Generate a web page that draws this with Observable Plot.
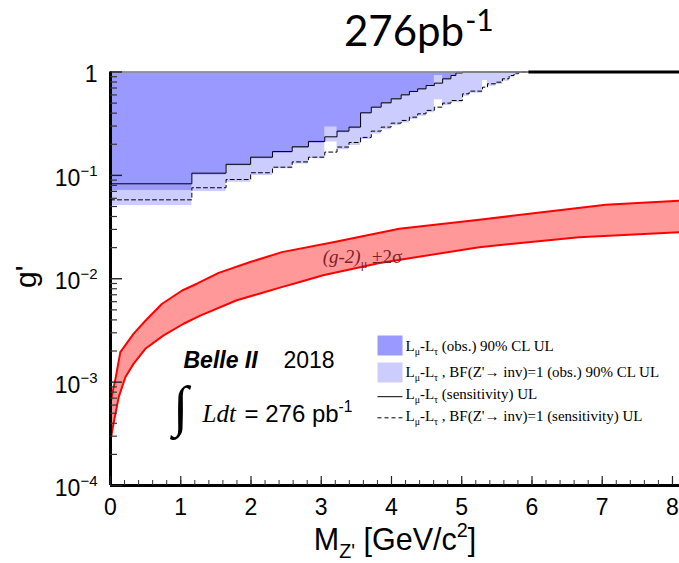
<!DOCTYPE html>
<html><head><meta charset="utf-8">
<script src="https://cdn.jsdelivr.net/npm/d3@7"></script>
<script src="https://cdn.jsdelivr.net/npm/@observablehq/plot@0.6"></script>
<style>
html,body{margin:0;padding:0;background:#fff;}
#wrap{width:679px;height:563px;position:relative;background:#fff;}
#title{position:relative;height:50px;font-family:Lato,"Open Sans",sans-serif;}
#title .main{position:absolute;left:344px;top:4px;font-size:42px;line-height:44px;white-space:nowrap;color:#000;}
#title .sup{font-size:30px;line-height:30px;vertical-align:15px;margin-left:1px;}
#chart svg{display:block;}
</style></head><body>
<div id="wrap"><div id="title"><span class="main">276pb<span class="sup">-1</span></span></div><div id="chart"></div></div>
<script>
// ---- data ----
const binEdges = [0, 1.158, 1.645, 1.995, 2.307, 2.586, 2.818, 3.05, 3.225, 3.395, 3.56, 3.712, 3.853, 3.995, 4.137, 4.255, 4.373, 4.492, 4.61, 4.728, 4.846, 4.917, 5.012, 5.106, 5.296, 5.366, 5.485, 5.579, 5.674, 5.745, 5.816, 5.957];
// L_mu - L_tau observed 90% CL UL (dark)
const obsUL = [0.0715, 0.101, 0.124, 0.145, 0.164, 0.183, 0.205, 0.293, 0.258, 0.282, 0.394, 0.447, 0.492, 0.538, 0.588, 0.634, 0.672, 0.724, 0.925, 0.84, 0.905, 0.96, 1, 1, 1, 1, 1, 1, 1, 1, 1];
// BF(Z'->inv)=1 observed 90% CL UL (light)
const obsInvUL = [0.0512, 0.0699, 0.086, 0.0998, 0.116, 0.129, 0.145, 0.210, 0.177, 0.195, 0.222, 0.252, 0.276, 0.304, 0.322, 0.347, 0.374, 0.403, 0.538, 0.474, 0.503, 0.503, 0.584, 0.624, 0.827, 0.729, 0.757, 0.815, 0.879, 0.925, 0.975];
// sensitivity (solid)
const sensUL = [0.0829, 0.105, 0.128, 0.150, 0.170, 0.189, 0.213, 0.236, 0.268, 0.293, 0.403, 0.457, 0.503, 0.550, 0.601, 0.648, 0.687, 0.740, 0.780, 0.859, 0.925, 0.98, 1, 1, 1, 1, 1, 1, 1, 1, 1];
// BF=1 sensitivity (dashed)
const sensInvUL = [0.058, 0.0759, 0.0912, 0.106, 0.120, 0.135, 0.150, 0.168, 0.188, 0.208, 0.233, 0.268, 0.293, 0.320, 0.340, 0.366, 0.394, 0.425, 0.457, 0.500, 0.530, 0.530, 0.615, 0.653, 0.713, 0.769, 0.797, 0.859, 0.925, 0.975, 1];
// (g-2)_mu +-2 sigma band
const gm2UpperX = [0, 0.03, 0.07, 0.14, 0.33, 0.5, 0.73, 1.02, 1.23, 1.54, 1.99, 2.44, 3.17, 4.11, 5.25, 7.05, 8.12];
const gm2UpperG = [6.2e-4, 8.0e-4, 1.07e-3, 1.95e-3, 2.95e-3, 3.95e-3, 5.7e-3, 7.7e-3, 8.95e-3, 1.14e-2, 1.45e-2, 1.81e-2, 2.26e-2, 3.05e-2, 3.72e-2, 5.2e-2, 5.7e-2];
const gm2LowerX = [0, 0.047, 0.118, 0.213, 0.33, 0.496, 0.756, 1.04, 1.277, 1.797, 2.128, 2.411, 2.695, 3.026, 3.83, 5.248, 6.667, 8.12];
const gm2LowerG = [2.72e-4, 4.1e-4, 7.2e-4, 1.12e-3, 1.51e-3, 2.1e-3, 2.83e-3, 3.67e-3, 4.4e-3, 6.2e-3, 7.2e-3, 8.2e-3, 9.3e-3, 1.08e-2, 1.42e-2, 2.02e-2, 2.52e-2, 2.82e-2];

const xTicks = [0, 1, 2, 3, 4, 5, 6, 7, 8];
const xTickLabels = ["0", "1", "2", "3", "4", "5", "6", "7", "8"];
const yTicks = [1e-4, 1e-3, 1e-2, 1e-1, 1];
const yTickLabels = ["10^{−4}", "10^{−3}", "10^{−2}", "10^{−1}", "1"];
const xAxisLabel = "M_{Z'} [GeV/c^{2}]";
const yAxisLabel = "g'";
const legendLabels = ["L_{μ}-L_{τ} (obs.) 90% CL UL", "L_{μ}-L_{τ} , BF(Z'→ inv)=1 (obs.) 90% CL UL", "L_{μ}-L_{τ} (sensitivity) UL", "L_{μ}-L_{τ} , BF(Z'→ inv)=1 (sensitivity) UL"];
const gm2Label = "~i{(g-2)}_{μ} ±2σ";
const gm2LabelAt = {x: 3.02, g: 0.0163};
const belleLabel = "Belle II";
const yearLabel = "2018";
const lumiLabel = "= 276 pb^{-1}";

// ---- styling ----
const xMax = 8.1;
const colDark = "#9999ff", colLight = "#ccccff", colBand = "#ff9999", colRed = "#ff0000";

function stepPoints(edges, vals) {
  const pts = vals.map((v, i) => ({x: edges[i], g: v}));
  pts.push({x: edges[vals.length], g: vals[vals.length - 1]});
  return pts;
}
const darkPts = stepPoints(binEdges, obsUL);
const lightPts = stepPoints(binEdges, obsInvUL);
const sensPts = stepPoints(binEdges, sensUL);
const sensInvPts = stepPoints(binEdges, sensInvUL);
const upperPts = gm2UpperX.map((x, i) => ({x, g: gm2UpperG[i]}));
const lowerPts = gm2LowerX.map((x, i) => ({x, g: gm2LowerG[i]}));
const bandPoly = upperPts.concat(lowerPts.slice().reverse());

const xMinor = d3.range(0, 41).map(i => i / 5);
const yMinor = [];
for (let k = -4; k <= -1; k++) for (let m = 2; m <= 9; m++) yMinor.push(m * Math.pow(10, k));
const yFmt = new Map(yTicks.map((v, i) => [v, yTickLabels[i]]));
const xFmt = new Map(xTicks.map((v, i) => [v, xTickLabels[i]]));

const boxSym = {draw(ctx) { ctx.moveTo(-12.5, -10); ctx.lineTo(12.5, -10); ctx.lineTo(12.5, 10); ctx.lineTo(-12.5, 10); ctx.closePath(); }};
const lineSym = {draw(ctx) { ctx.moveTo(-12.5, 0); ctx.lineTo(12.5, 0); }};

const legendKeys = [
  {sym: boxSym, fill: colDark, stroke: "none", dash: null, dy: 273.5},
  {sym: boxSym, fill: colLight, stroke: "none", dash: null, dy: 300.5},
  {sym: lineSym, fill: "none", stroke: "black", dash: null, dy: 324.7},
  {sym: lineSym, fill: "none", stroke: "black", dash: "4,3", dy: 345.8}
];
const legendTextDy = [274.4, 300.4, 322.5, 344.2];

const legendMarks = [];
legendKeys.forEach((k, i) => {
  legendMarks.push(Plot.dot([0], {frameAnchor: "top-left", dx: 279.5, dy: k.dy, symbol: k.sym, fill: k.fill, stroke: k.stroke, strokeWidth: 1, strokeDasharray: k.dash}));
  legendMarks.push(Plot.text([legendLabels[i]], {frameAnchor: "top-left", dx: 295, dy: legendTextDy[i], textAnchor: "start", lineAnchor: "middle", fontSize: 15, fontFamily: "'Liberation Serif', 'Times New Roman', serif", fill: "black"}));
});

const plot = Plot.plot({
  width: 679, height: 513,
  marginLeft: 110, marginRight: 0, marginTop: 21.5, marginBottom: 78,
  x: {domain: [0, xMax], label: null},
  y: {type: "log", domain: [1e-4, 1], label: null},
  style: {fontFamily: "'Liberation Sans', Arial, sans-serif", background: "white", color: "black", overflow: "visible"},
  marks: [
    Plot.areaY(lightPts, {x: "x", y1: "g", y2: 1, curve: "step-after", fill: colLight}),
    Plot.areaY(darkPts, {x: "x", y1: "g", y2: 1, curve: "step-after", fill: colDark}),
    Plot.line(bandPoly, {x: "x", y: "g", fill: colBand, stroke: "none"}),
    Plot.line(upperPts, {x: "x", y: "g", stroke: colRed, strokeWidth: 2}),
    Plot.line(lowerPts, {x: "x", y: "g", stroke: colRed, strokeWidth: 2}),
    Plot.line(sensPts, {x: "x", y: "g", curve: "step-after", stroke: "black", strokeWidth: 1}),
    Plot.line(sensInvPts, {x: "x", y: "g", curve: "step-after", stroke: "black", strokeWidth: 1, strokeDasharray: "4,3"}),
    Plot.ruleY([1], {stroke: "#8a8a8a", strokeWidth: 1.5}),
    Plot.ruleY([1], {x1: binEdges[binEdges.length - 1], x2: xMax, stroke: "black", strokeWidth: 3}),
    Plot.ruleX([0], {stroke: "black", strokeWidth: 3}),
    Plot.ruleY([1e-4], {stroke: "black", strokeWidth: 3}),
    Plot.axisY(yMinor, {tickSize: -7, fill: "none", label: null, strokeWidth: 1.2, stroke: "#333"}),
    Plot.axisY(yTicks, {tickSize: -12, fill: "none", label: null, strokeWidth: 1.4, stroke: "#222"}),
    Plot.axisX(xMinor, {tickSize: -5, fill: "none", label: null, strokeWidth: 1, stroke: "#333"}),
    Plot.axisX(xTicks, {tickSize: -9, fill: "none", label: null, strokeWidth: 1.2, stroke: "#222"}),
    Plot.axisY(yTicks, {tickSize: 0, tickPadding: 13, tickFormat: d => yFmt.get(d), fontSize: 23, dy: 3, label: null}),
    Plot.axisX(xTicks, {tickSize: 0, tickPadding: 13, tickFormat: d => xFmt.get(d), fontSize: 23, label: null}),
    Plot.text([yAxisLabel], {frameAnchor: "left", dx: -84, dy: -2, rotate: -90, fontSize: 30, textAnchor: "middle", lineAnchor: "middle"}),
    Plot.text([xAxisLabel], {frameAnchor: "bottom", dy: 55, fontSize: 30.5, textAnchor: "middle", lineAnchor: "middle"}),
    Plot.text([gm2LabelAt], {x: "x", y: "g", text: () => gm2Label, textAnchor: "start", lineAnchor: "middle", fontSize: 19, fontFamily: "'Liberation Serif', 'Times New Roman', serif", fill: "#7e2029"}),
    Plot.text([belleLabel], {frameAnchor: "top-left", dx: 73, dy: 289.1, fontSize: 23, fontWeight: "bold", fontStyle: "italic", textAnchor: "start", lineAnchor: "middle"}),
    Plot.text([yearLabel], {frameAnchor: "top-left", dx: 173, dy: 289.1, fontSize: 23, textAnchor: "start", lineAnchor: "middle"}),
    Plot.text(["∫"], {frameAnchor: "top-left", dx: 70, dy: 335, fontSize: 56, textAnchor: "middle", lineAnchor: "middle", fontFamily: "'Liberation Serif', serif"}),
    Plot.text(["Ldt"], {frameAnchor: "top-left", dx: 92, dy: 341.5, fontSize: 25, fontStyle: "italic", textAnchor: "start", lineAnchor: "middle", fontFamily: "'Liberation Serif', serif"}),
    Plot.text([lumiLabel], {frameAnchor: "top-left", dx: 134, dy: 342.8, fontSize: 24, textAnchor: "start", lineAnchor: "middle"}),
    ...legendMarks
  ]
});
document.getElementById("chart").appendChild(plot);

function richify(root) {
  root.querySelectorAll("text").forEach(el => {
    if (el.querySelector("tspan")) return;
    const s = el.textContent;
    if (!/(\^|_|~i)\{/.test(s)) return;
    const fs = parseFloat(getComputedStyle(el).fontSize) || 12;
    const re = /(\^|_|~i)\{([^}]*)\}/g;
    const segs = []; let last = 0, m;
    while ((m = re.exec(s))) {
      if (m.index > last) segs.push(["", s.slice(last, m.index)]);
      segs.push([m[1], m[2]]);
      last = re.lastIndex;
    }
    if (last < s.length) segs.push(["", s.slice(last)]);
    el.textContent = "";
    let cur = 0;
    for (const [k, t] of segs) {
      const ts = document.createElementNS("http://www.w3.org/2000/svg", "tspan");
      ts.textContent = t;
      let shift = 0;
      if (k === "^") { shift = -0.42 * fs; ts.setAttribute("font-size", (0.65 * fs).toFixed(1)); }
      else if (k === "_") { shift = 0.25 * fs; ts.setAttribute("font-size", (0.65 * fs).toFixed(1)); }
      else if (k === "~i") ts.setAttribute("font-style", "italic");
      if (Math.abs(shift - cur) > 1e-6) { ts.setAttribute("dy", (shift - cur).toFixed(2)); cur = shift; }
      el.appendChild(ts);
    }
  });
}
richify(plot);
</script></body></html>
